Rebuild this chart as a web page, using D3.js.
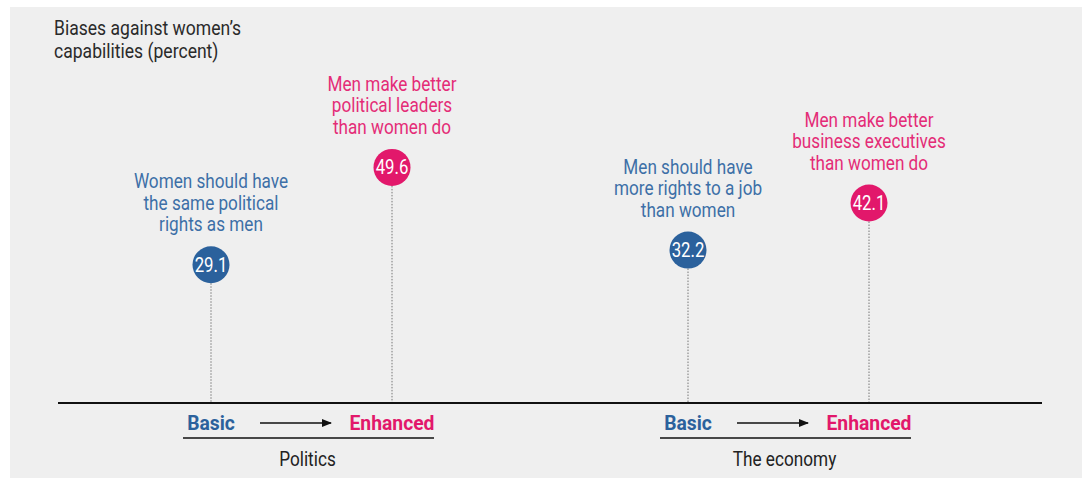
<!DOCTYPE html>
<html><head><meta charset="utf-8">
<script src="https://cdn.jsdelivr.net/npm/d3@7"></script>
<style>
body{margin:0;background:#fff;}
svg{display:block;}
text{font-family:"Roboto","Liberation Sans",sans-serif;}
</style></head>
<body><svg id="c" width="1086" height="478"></svg>
<script>
const groups = ["Politics", "The economy"];
const levels = ["Basic", "Enhanced"];
const values = [29.1, 49.6, 32.2, 42.1];
const labels = [
  ["Women should have", "the same political", "rights as men"],
  ["Men make better", "political leaders", "than women do"],
  ["Men should have", "more rights to a job", "than women"],
  ["Men make better", "business executives", "than women do"]
];
const titleLines = ["Biases against women\u2019s", "capabilities (percent)"];
const colors = {Basic: "#2b619c", Enhanced: "#e2186b"};
const labelColors = {Basic: "#3d6fa7", Enhanced: "#e42c77"};

const data = values.map((v, i) => ({
  group: groups[Math.floor(i / 2)],
  level: levels[i % 2],
  value: v,
  label: labels[i]
}));

const SX = 0.88; // condensed look
function ctext(parent, x, yy, str, opts) {
  return parent.append("text")
    .attr("transform", `translate(${x},${yy}) scale(${opts.sx || SX},1)`)
    .attr("text-anchor", opts.anchor || "middle")
    .attr("font-size", opts.size || 19)
    .attr("font-weight", opts.weight || 400)
    .attr("fill", opts.fill || "#222")
    .text(str);
}

const svg = d3.select("#c");
svg.append("rect").attr("x", 10).attr("y", 7).attr("width", 1072).attr("height", 471).attr("fill", "#efefef");

const baseY = 403;
const y = d3.scaleLinear().domain([0, 50]).range([baseY, baseY - 4.75 * 50]);
const gx = d3.scalePoint().domain(groups).range([301.5, 778.5]);
const ix = d3.scalePoint().domain(levels).range([-90.5, 90.5]);
const xPos = d => gx(d.group) + ix(d.level);
const r = 18.5;

// title
titleLines.forEach((l, i) => ctext(svg, 54, 35 + i * 23, l, {anchor: "start", size: 19.5, sx: 0.9, fill: "#2a2a2a"}));

// dotted stems
svg.selectAll(".stem").data(data).join("line")
  .attr("x1", xPos).attr("x2", xPos)
  .attr("y1", d => y(d.value) + r).attr("y2", baseY)
  .attr("stroke", "#777").attr("stroke-width", 1).attr("stroke-dasharray", "1.5,1.5");

// baseline
svg.append("line").attr("x1", 58).attr("x2", 1042).attr("y1", baseY).attr("y2", baseY)
  .attr("stroke", "#111").attr("stroke-width", 2);

// circles
svg.selectAll(".dot").data(data).join("circle")
  .attr("cx", xPos).attr("cy", d => y(d.value)).attr("r", r)
  .attr("fill", d => colors[d.level]);
data.forEach(d => ctext(svg, xPos(d), y(d.value) + 7, d.value.toFixed(1), {size: 20, sx: 0.84, fill: "#fff"}));

// labels
data.forEach(d => {
  const last = y(d.value) - r - 15;
  d.label.forEach((line, i) => {
    ctext(svg, xPos(d), last - (d.label.length - 1 - i) * 21.5, line,
      {size: 19.5, fill: labelColors[d.level]});
  });
});

// bottom labels
svg.append("defs").append("marker").attr("id", "ah").attr("viewBox", "0 0 10 10")
  .attr("refX", 9).attr("refY", 5).attr("markerWidth", 10).attr("markerHeight", 10)
  .attr("markerUnits", "userSpaceOnUse").attr("orient", "auto")
  .append("path").attr("d", "M0,1 L10,5 L0,9 Z").attr("fill", "#111");

groups.forEach(g => {
  const cx = gx(g);
  svg.append("line").attr("x1", cx + ix("Basic") + 49).attr("x2", cx + ix("Enhanced") - 61)
    .attr("y1", 423).attr("y2", 423).attr("stroke", "#111").attr("stroke-width", 1.3)
    .attr("marker-end", "url(#ah)");
  svg.append("line").attr("x1", cx - 118.5).attr("x2", cx + 132.5)
    .attr("y1", 438).attr("y2", 438).attr("stroke", "#111").attr("stroke-width", 1.3);
  ctext(svg, cx + 6, 466, g, {size: 20, sx: 0.86, fill: "#222"});
});
data.forEach(d => ctext(svg, xPos(d), 430, d.level, {size: 21, weight: 700, fill: colors[d.level], sx: 0.92}));
</script></body></html>
